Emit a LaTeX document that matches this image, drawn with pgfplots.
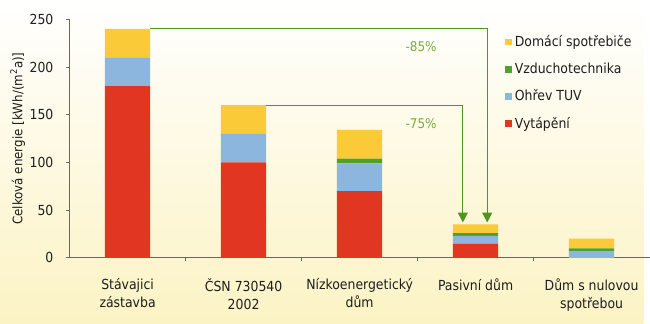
\documentclass[border=0pt]{standalone}
\usepackage{fontspec}
\setmainfont{DejaVu Sans Condensed}
\usepackage{pgfplots}
\pgfplotsset{compat=1.18}
\usetikzlibrary{arrows.meta}
\definecolor{cred}{RGB}{224,54,34}
\definecolor{cblue}{RGB}{140,182,222}
\definecolor{cgreen}{RGB}{78,160,48}
\definecolor{cyellow}{RGB}{250,202,56}
\definecolor{carrow}{RGB}{78,150,30}
\definecolor{clabel}{RGB}{120,172,60}
\definecolor{bgbot}{RGB}{252,243,196}
\definecolor{axisc}{RGB}{105,105,85}
\definecolor{txt}{RGB}{30,30,30}
\pgfplotsset{sq legend/.style={legend image code/.code={\fill[##1] (0pt,-3.5pt) rectangle (7pt,3.5pt);}}}
\begin{document}
\fontsize{14}{16}\selectfont
\begin{tikzpicture}[x=1pt,y=1pt]
\shade[top color=white, bottom color=bgbot] (0,0) rectangle (650,327);
\begin{axis}[
  at={(60,69)}, anchor=south west,
  scale only axis, width=586pt, height=241pt,
  ybar stacked, bar width=0.39,
  xmin=-0.5, xmax=4.5, ymin=0, ymax=250,
  axis lines*=left,
  axis line style={axisc, line width=0.8pt},
  every tick/.style={axisc, line width=0.8pt},
  tick align=outside, major tick length=3.5pt,
  ytick={0,50,100,150,200,250},
  yticklabel style={xshift=-8pt},
  xtick={0.5,1.5,2.5,3.5}, xticklabels={},
  extra x ticks={0,1,2,3,4},
  extra x tick labels={{Stávajici\\zástavba},{ČSN 730540\\2002},{Nízkoenergetický\\dům},{Pasivní dům},{Dům s nulovou\\spotřebou}},
  extra x tick style={major tick length=0pt, xticklabel style={align=center, yshift=-16pt}},
  /pgf/number format/assume math mode=true,
  tick label style={font=\fontsize{14}{18}\selectfont, text=txt},
  ylabel={Celková energie [kWh/(m\textsuperscript{2}a)]},
  ylabel style={font=\fontsize{13.3}{15}\selectfont, text=txt, yshift=-5pt},
  legend style={at={(rel axis cs:0.746,0.952)}, anchor=north west, draw=none, fill=none, row sep=9.5pt, font=\fontsize{14}{16}\selectfont, text=txt, nodes={inner sep=2.5pt}},
  legend cell align=left,
  reverse legend,
]
\addplot[fill=cred, draw=none, sq legend] coordinates {(0,180) (1,100) (2,70) (3,15) (4,0)};
\addplot[fill=cblue, draw=none, sq legend] coordinates {(0,30) (1,30) (2,29) (3,8) (4,7)};
\addplot[fill=cgreen, draw=none, sq legend] coordinates {(0,0) (1,0) (2,5) (3,3) (4,3)};
\addplot[fill=cyellow, draw=none, sq legend] coordinates {(0,30) (1,30) (2,30) (3,9) (4,10)};
\legend{Vytápění, Ohřev TUV, Vzduchotechnika, Domácí spotřebiče}
\draw[carrow, line width=1.2pt, -{Triangle[width=10pt,length=10pt]}] (axis cs:0.195,240) -| (axis cs:3.1,37);
\draw[carrow, line width=1.2pt, -{Triangle[width=10pt,length=10pt]}] (axis cs:1.195,160) -| (axis cs:2.89,37);
\node[text=clabel, font=\fontsize{13.5}{15}\selectfont] at (axis cs:2.53,221) {-85\%};
\node[text=clabel, font=\fontsize{13.5}{15}\selectfont] at (axis cs:2.53,141) {-75\%};
\end{axis}
\end{tikzpicture}
\end{document}
